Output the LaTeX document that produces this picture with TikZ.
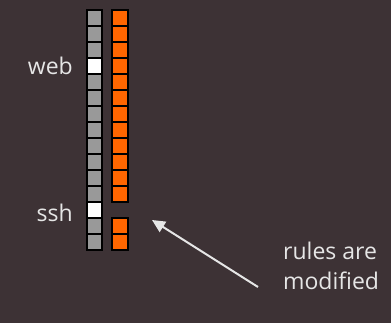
\documentclass[tikz,border=0pt]{standalone}
\usepackage{fontspec}
\setmainfont{Open Sans}
\usetikzlibrary{positioning,arrows.meta}
\definecolor{fwBack}{RGB}{61,50,53}
\definecolor{fwGray}{RGB}{153,153,153}
\definecolor{fwOrange}{RGB}{255,102,0}
\definecolor{fwText}{RGB}{230,230,230}

\begin{document}
\begin{tikzpicture}[x=1pt, y=-1pt,
    cell/.style={draw=black, line width=2pt},
    lbl/.style={text=fwText, font=\fontsize{23}{29}\selectfont, inner sep=0pt}]
  % Background
  \fill[fwBack] (0,0) rectangle (391,323);
  \useasboundingbox (0,0) rectangle (391,323);

  % Left chain: 15 rules, two of them open
  \foreach \i in {0,...,14} {
    \pgfmathsetmacro{\top}{10+16*\i}
    \ifnum\i=3 \def\cellfill{white}\else\ifnum\i=12 \def\cellfill{white}\else\def\cellfill{fwGray}\fi\fi
    \draw[cell, fill=\cellfill] (87,\top) rectangle (102,\top+16);
  }

  % Right chain: same rules, one removed
  \foreach \i in {0,...,11,13,14} {
    \pgfmathsetmacro{\top}{10+16*\i}
    \draw[cell, fill=fwOrange] (112,\top) rectangle (128,\top+16);
  }

  % Labels
  \node[lbl, anchor=base east] (web) at (73,75) {web};
  \node[lbl, anchor=base east] (ssh) at (73,222) {ssh};
  \node[lbl, anchor=base west, align=left] (note) at (283,289) {rules are\\modified};

  % Arrow to the gap
  \coordinate (tail) at (258,287);
  \coordinate (gap) at (152,220);
  \draw[fwText, line width=2pt, -{Triangle[length=13pt, width=12pt]}] (tail) -- (gap);
\end{tikzpicture}
\end{document}
